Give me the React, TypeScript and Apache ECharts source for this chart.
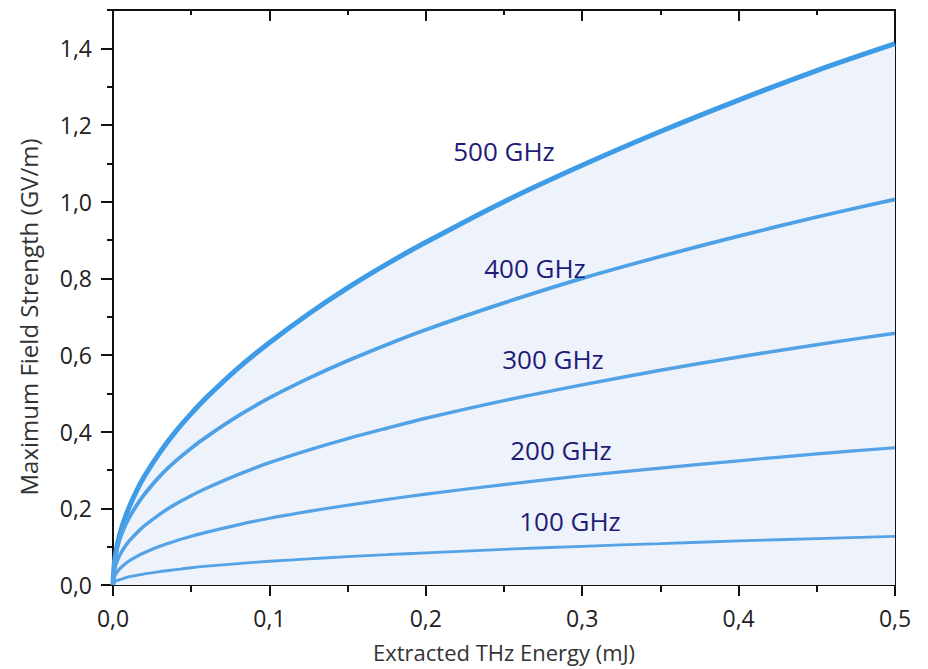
import React, { useEffect, useRef } from "react";
import * as echarts from "echarts";

// Extracted THz energy (mJ)
const energy = [0, 0.001, 0.003, 0.006, 0.01, 0.015, 0.02, 0.03, 0.04, 0.05, 0.06, 0.08, 0.1, 0.125, 0.15, 0.175, 0.2, 0.25, 0.3, 0.35, 0.4, 0.45, 0.5];

// Maximum field strength (GV/m) for each frequency
const field500 = [0, 0.063, 0.11, 0.155, 0.2, 0.245, 0.283, 0.346, 0.4, 0.447, 0.49, 0.566, 0.632, 0.707, 0.775, 0.837, 0.894, 1.0, 1.095, 1.183, 1.265, 1.342, 1.412];
const field400 = [0, 0.061, 0.101, 0.138, 0.173, 0.207, 0.236, 0.284, 0.323, 0.357, 0.387, 0.441, 0.488, 0.539, 0.585, 0.627, 0.666, 0.736, 0.8, 0.857, 0.91, 0.96, 1.006];
const field300 = [0, 0.04, 0.066, 0.09, 0.113, 0.135, 0.154, 0.185, 0.211, 0.233, 0.253, 0.288, 0.319, 0.352, 0.382, 0.409, 0.435, 0.481, 0.522, 0.56, 0.595, 0.627, 0.657];
const field200 = [0, 0.022, 0.036, 0.049, 0.062, 0.074, 0.084, 0.101, 0.115, 0.127, 0.138, 0.157, 0.174, 0.192, 0.208, 0.223, 0.237, 0.262, 0.285, 0.305, 0.324, 0.342, 0.358];
const field100 = [0, 0.008, 0.012, 0.016, 0.021, 0.025, 0.029, 0.035, 0.04, 0.045, 0.049, 0.056, 0.062, 0.068, 0.074, 0.079, 0.084, 0.093, 0.101, 0.108, 0.115, 0.121, 0.127];

const curveNames = ["500 GHz", "400 GHz", "300 GHz", "200 GHz", "100 GHz"];
const yMajorTicks = [0, 0.2, 0.4, 0.6, 0.8, 1.0, 1.2, 1.4];

const FONT = "'Open Sans', sans-serif";
const INK = "#111";
const LABEL_INK = "#1e1c78";

const pairs = (ys: number[]) => energy.map((x, i) => [x, ys[i]]);
const comma = (v: number) => v.toFixed(1).replace(".", ",");

export default function App() {
  const ref = useRef<HTMLDivElement>(null);

  useEffect(() => {
    if (!ref.current) return;
    const chart = echarts.init(ref.current, undefined, { renderer: "svg" });

    const axisLine = { show: true, onZero: false, lineStyle: { color: INK, width: 2 } };
    const tickStyle = { color: INK, width: 2 };

    const xBase = {
      type: "value" as const,
      min: 0,
      max: 0.5,
      interval: 0.1,
      splitLine: { show: false },
      axisLine,
    };
    const yBase = {
      type: "value" as const,
      min: 0,
      max: 1.5,
      splitLine: { show: false },
    };

    const lineSeries = (name: string, data: number[], width: number, color: string, extra: object = {}) => ({
      type: "line",
      name,
      data: pairs(data),
      xAxisIndex: 0,
      yAxisIndex: 0,
      smooth: 0.3,
      showSymbol: false,
      symbol: "none",
      lineStyle: { width, color },
      ...extra,
    });

    // curve labels, anchored in chart pixels
    const labelPos: [string, number, number][] = [
      [curveNames[0], 496, 143],
      [curveNames[1], 527, 260],
      [curveNames[2], 545, 351],
      [curveNames[3], 553, 442],
      [curveNames[4], 562, 513],
    ];

    chart.setOption({
      animation: false,
      backgroundColor: "#ffffff",
      grid: {
        left: 105,
        right: 25,
        top: 2,
        bottom: 84,
        containLabel: false,
        outerBoundsMode: "none",
      },
      xAxis: [
        {
          ...xBase,
          position: "bottom",
          axisTick: { show: true, length: 11, lineStyle: tickStyle },
          minorTick: { show: true, splitNumber: 2, length: 7, lineStyle: tickStyle },
          axisLabel: {
            formatter: (v: number) => comma(v),
            fontFamily: FONT,
            fontSize: 23,
            color: "#222",
            margin: 21,
          },
          name: "Extracted THz Energy (mJ)",
          nameLocation: "middle",
          nameGap: 56,
          nameTextStyle: { fontFamily: FONT, fontSize: 22, color: "#333" },
        },
        {
          ...xBase,
          position: "top",
          axisTick: { show: true, inside: true, length: 11, lineStyle: tickStyle },
          minorTick: { show: true, splitNumber: 2, length: 5, lineStyle: tickStyle },
          axisLabel: { show: false },
        },
      ],
      yAxis: [
        {
          ...yBase,
          position: "left",
          interval: 0.1,
          axisLine,
          axisTick: { show: true, length: 6, lineStyle: tickStyle },
          axisLabel: {
            formatter: (v: number) => (Math.round(v * 10) % 2 === 0 ? comma(v) : ""),
            fontFamily: FONT,
            fontSize: 23,
            color: "#222",
            margin: 21,
          },
        },
        {
          ...yBase,
          position: "left",
          interval: 0.1,
          axisLine: { show: false },
          axisTick: { show: true, length: 11, lineStyle: tickStyle, customValues: yMajorTicks },
          axisLabel: { show: false },
        },
        {
          ...yBase,
          position: "right",
          interval: 0.1,
          axisLine,
          axisTick: { show: true, inside: true, length: 7, lineStyle: tickStyle },
          axisLabel: { show: false },
        },
        {
          ...yBase,
          position: "right",
          interval: 0.1,
          axisLine: { show: false },
          axisTick: { show: true, inside: true, length: 12, lineStyle: tickStyle, customValues: yMajorTicks },
          axisLabel: { show: false },
        },
      ],
      series: [
        lineSeries(curveNames[0], field500, 5, "#3e9be6", {
          areaStyle: { color: "#eef2fb", opacity: 1 },
          z: 2,
        }),
        lineSeries(curveNames[1], field400, 3.8, "#4fa1e6", { z: 3 }),
        lineSeries(curveNames[2], field300, 3.5, "#52a2e6", { z: 3 }),
        lineSeries(curveNames[3], field200, 3.2, "#55a3e6", { z: 3 }),
        lineSeries(curveNames[4], field100, 2.8, "#55a3e6", { z: 3 }),
      ],
      graphic: [
        ...labelPos.map(([text, x, y]) => ({
          type: "text",
          x,
          y,
          z: 10,
          style: {
            text,
            fontFamily: FONT,
            fontSize: 26,
            fill: LABEL_INK,
            textAlign: "center",
            textVerticalAlign: "middle",
          },
        })),
        {
          type: "text",
          x: 20,
          y: 309,
          rotation: Math.PI / 2,
          style: {
            text: "Maximum Field Strength (GV/m)",
            fontFamily: FONT,
            fontSize: 24,
            fill: "#333",
            textAlign: "center",
            textVerticalAlign: "middle",
          },
        },
      ],
    });

    return () => chart.dispose();
  }, []);

  return <div ref={ref} style={{ width: 912, height: 661 }} />;
}
